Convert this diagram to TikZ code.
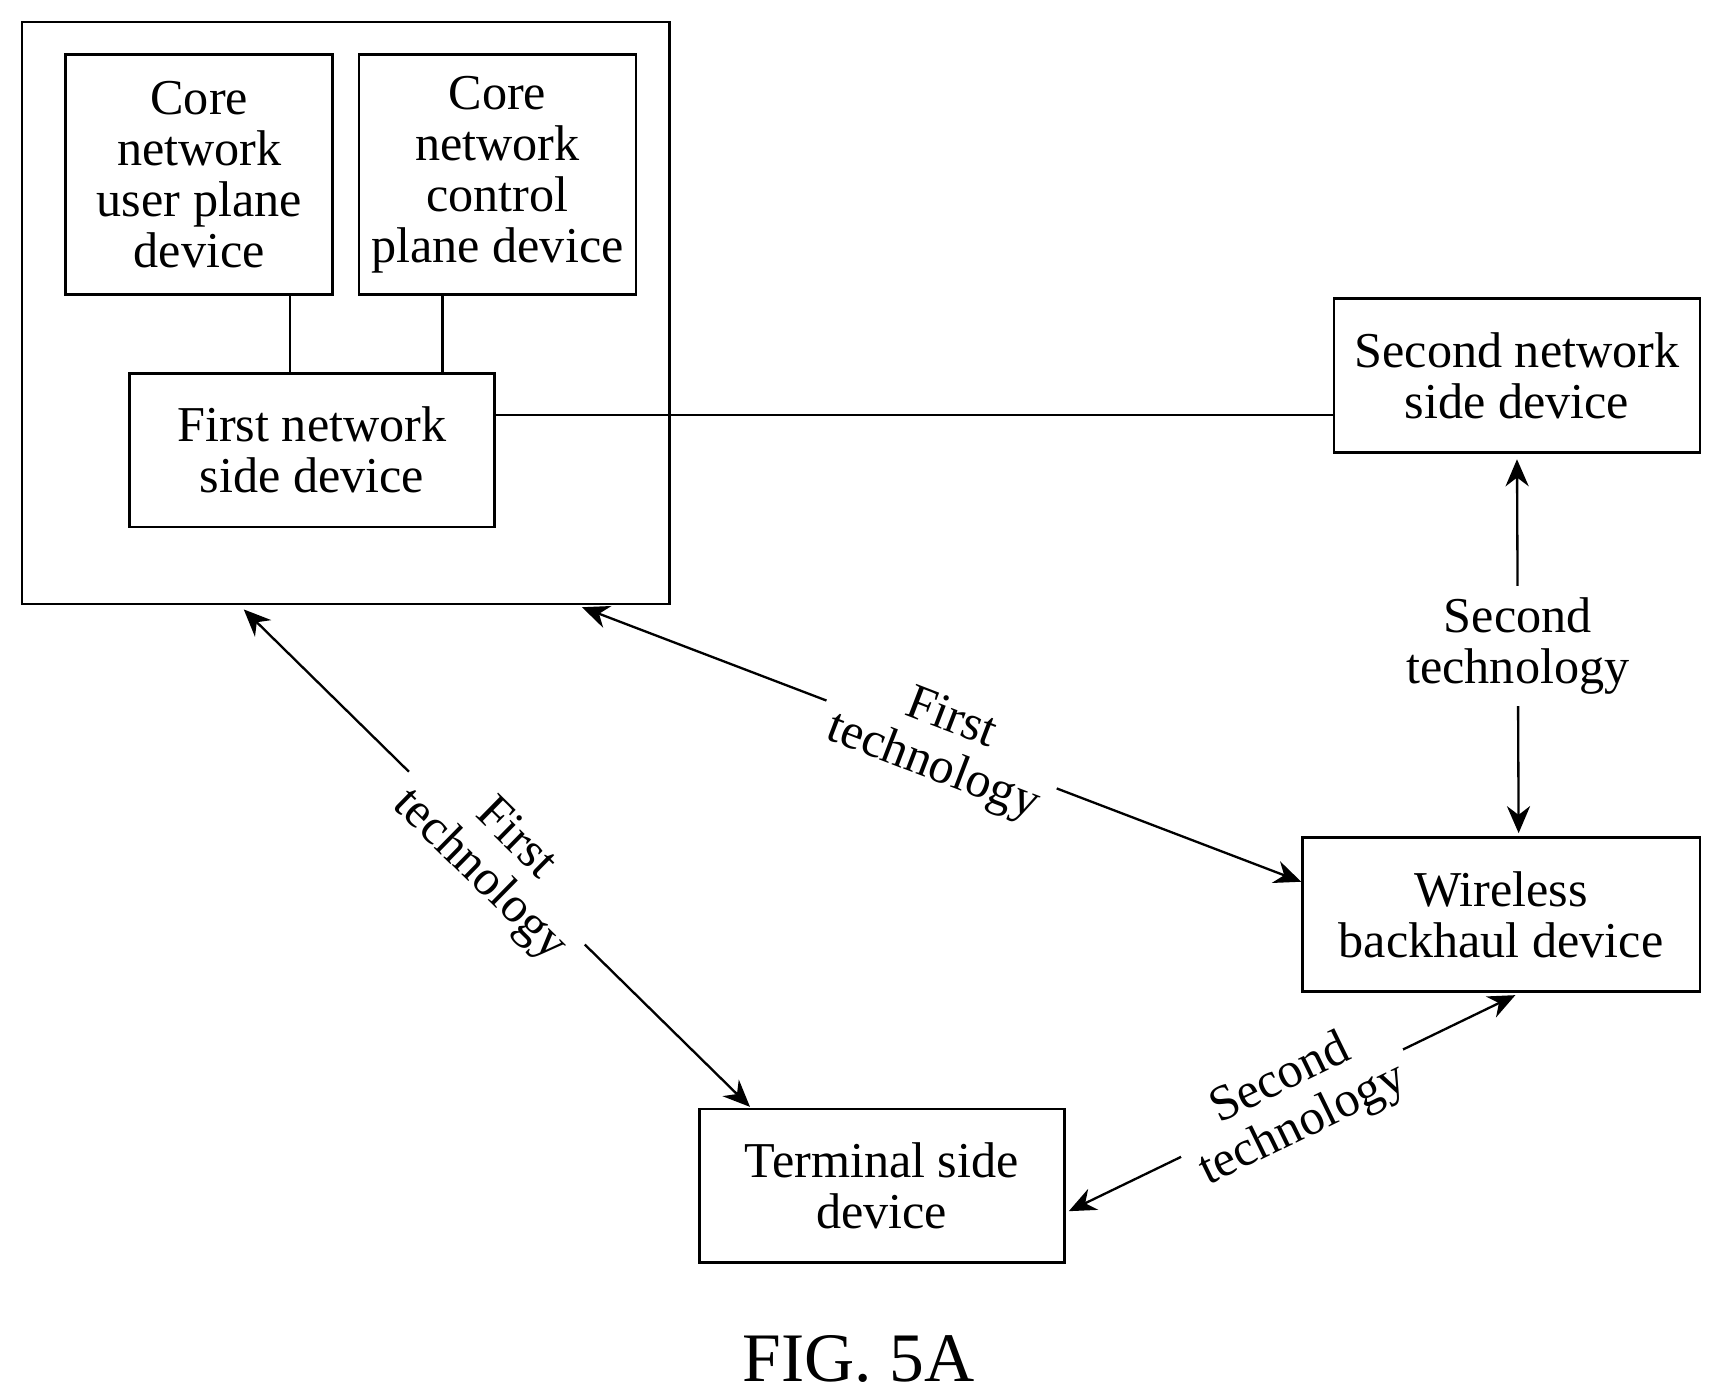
\documentclass[tikz,border=0pt]{standalone}
\usepackage{fontspec}
\setmainfont{Liberation Serif}
\usetikzlibrary{arrows.meta,calc}
\begin{document}
\begin{tikzpicture}[x=0.01cm,y=-0.01cm,
  box/.style={draw,line width=0.7pt,inner sep=0pt},
  lbl/.style={align=center,font=\fontsize{13pt}{13.2pt}\selectfont},
  arr/.style={line width=0.6pt,{Stealth[length=7pt,width=6pt]}-{Stealth[length=7pt,width=6pt]}},
  tag/.style={lbl,fill=white,inner sep=3pt}]
\useasboundingbox (0,0) rectangle (1560,1270);
\draw[box] (20,20) rectangle (610,550);
\node[box,minimum width=2.43cm,minimum height=2.18cm] (up) at (181.5,159) {};
\node[lbl] at (up) {Core\\network\\user plane\\device};
\node[box,minimum width=2.52cm,minimum height=2.18cm] (cp) at (453,159) {};
\node[lbl] at (cp) {Core\\network\\control\\plane device};
\node[box,minimum width=3.32cm,minimum height=1.4cm] (fn) at (284,410) {};
\node[lbl] at (fn) {First network\\side device};
\node[box,minimum width=3.33cm,minimum height=1.4cm] (sn) at (1381.5,342) {};
\node[lbl] at (sn) {Second network\\side device};
\node[box,minimum width=3.62cm,minimum height=1.4cm] (wb) at (1367,833) {};
\node[lbl] at (wb) {Wireless\\backhaul device};
\node[box,minimum width=3.32cm,minimum height=1.4cm] (ts) at (803,1080) {};
\node[lbl] at (ts) {Terminal side\\device};
\node[font=\fontsize{18pt}{18pt}\selectfont] (cap) at (782,1238) {FIG. 5A};
\draw[line width=0.6pt] (264,268) -- (264,340);
\draw[line width=0.6pt] (403,268) -- (403,340);
\draw[line width=0.6pt] (fn.east |- 0,378) -- (sn.west |- 0,378);
\coordinate (o1) at (222,555);
\coordinate (o2) at (530,553);
\draw[arr] (o1) -- node[tag,rotate=-44.5]{First\\technology} (683,1008);
\draw[arr] (o2) -- node[tag,rotate=-21]{First\\technology} (1185,803);
\draw[arr] ($(sn.south)+(0,5)$) -- node[tag]{Second\\technology} ($(wb.north)+(16,-3)$);
\draw[arr] ($(wb.south)+(13,2)$) -- node[tag,rotate=26]{Second\\technology} ($(ts.east)+(3,23)$);
\end{tikzpicture}
\end{document}
